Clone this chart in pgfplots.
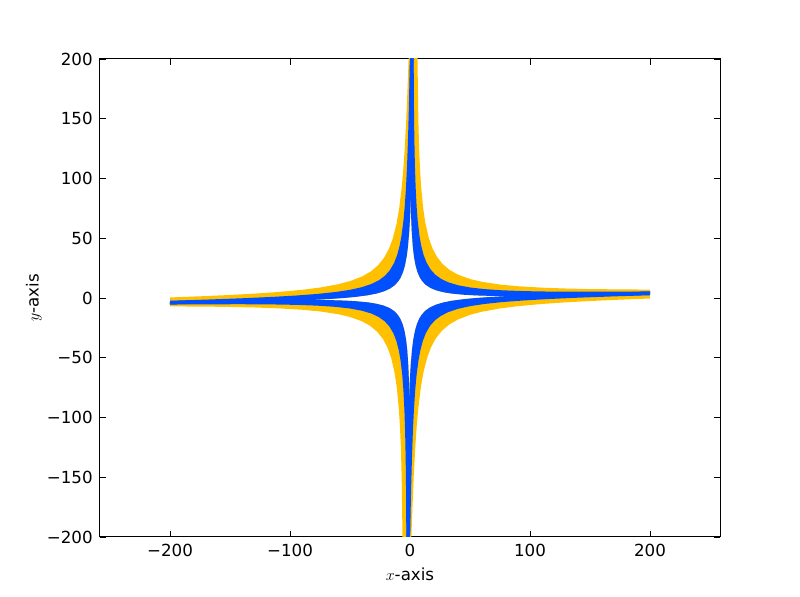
\documentclass[border=0pt]{standalone}
\usepackage{fontspec}
\setmainfont{DejaVu Sans}
\usepackage{pgfplots}
\pgfplotsset{compat=1.18}
\definecolor{myyellow}{RGB}{255,192,0}
\definecolor{myblue}{RGB}{0,80,255}
\begin{document}
\begin{tikzpicture}
\begin{axis}[
  scale only axis, width=465pt, height=358.5pt,
  xmin=-258.33, xmax=258.33, ymin=-200, ymax=200,
  axis line style={line width=0.75pt},
  xtick={-200,-100,0,100,200},
  xticklabels={−200,−100,0,100,200},
  ytick={-200,-150,-100,-50,0,50,100,150,200},
  yticklabels={−200,−150,−100,−50,0,50,100,150,200},
  tick align=inside, major tick length=4.2pt,
  tick style={black, line width=0.6pt},
  ticklabel style={font=\fontsize{12.5}{14}\selectfont},
  xticklabel style={yshift=-2pt},
  yticklabel style={xshift=-2pt},
  xlabel={$x$\fontsize{12.5}{14}\selectfont-axis},
  ylabel={$y$\fontsize{12.5}{14}\selectfont-axis},
  label style={font=\fontsize{12.5}{14}\selectfont},
  xlabel style={yshift=-1.5pt},
  ylabel style={yshift=-3pt},
]
% yellow I
\addplot[fill=myyellow, draw=none] coordinates {(6.23,250.05) (6.26,214.35) (6.42,187.57) (6.94,150.08) (7.61,125.1) (8.38,107.26) (9.21,93.88) (10.97,75.17) (12.81,62.7) (15.65,50.25) (18.54,41.97) (22.44,34.45) (27.36,28.23) (33.29,23.27) (40.24,19.41) (50.19,15.83) (60.16,13.49) (75.13,11.24) (90.11,9.82) (110.09,8.64) (130.07,7.92) (150.06,7.48) (175.06,7.18) (200.05,7.05) (199.99,2.42) (174.99,2.07) (149.99,1.78) (124.99,1.56) (100,1.46) (80,1.56) (67,1.77) (55.01,2.15) (45.01,2.72) (35.02,3.67) (28.03,4.8) (22.04,6.34) (17.06,8.39) (13.08,11.04) (10.1,14.18) (8.13,17.28) (6.16,21.86) (4.7,27.02) (3.26,35.01) (2.32,43.32) (1.42,56.38) (0.83,71.08) (0.37,91.13) (0.08,118.66) (-0.05,155.94) (0.01,203.47) (0.16,248.69)} -- cycle;
% yellow III
\addplot[fill=myyellow, draw=none] coordinates {(-6.23,-250.05) (-6.26,-214.35) (-6.42,-187.57) (-6.94,-150.08) (-7.61,-125.1) (-8.38,-107.26) (-9.21,-93.88) (-10.97,-75.17) (-12.81,-62.7) (-15.65,-50.25) (-18.54,-41.97) (-22.44,-34.45) (-27.36,-28.23) (-33.29,-23.27) (-40.24,-19.41) (-50.19,-15.83) (-60.16,-13.49) (-75.13,-11.24) (-90.11,-9.82) (-110.09,-8.64) (-130.07,-7.92) (-150.06,-7.48) (-175.06,-7.18) (-200.05,-7.05) (-199.99,-2.42) (-174.99,-2.07) (-149.99,-1.78) (-124.99,-1.56) (-100,-1.46) (-80,-1.56) (-67,-1.77) (-55.01,-2.15) (-45.01,-2.72) (-35.02,-3.67) (-28.03,-4.8) (-22.04,-6.34) (-17.06,-8.39) (-13.08,-11.04) (-10.1,-14.18) (-8.13,-17.28) (-6.16,-21.86) (-4.7,-27.02) (-3.26,-35.01) (-2.32,-43.32) (-1.42,-56.38) (-0.83,-71.08) (-0.37,-91.13) (-0.08,-118.66) (0.05,-155.94) (-0.01,-203.47) (-0.16,-248.69)} -- cycle;
% yellow II
\addplot[fill=myyellow, draw=none] coordinates {(0.23,249.95) (-0.74,214.23) (-1.58,187.43) (-3.07,149.92) (-4.39,124.9) (-5.62,107.02) (-6.79,93.62) (-9.03,74.84) (-11.19,62.3) (-14.36,49.75) (-17.46,41.37) (-21.56,33.73) (-26.64,27.33) (-32.71,22.19) (-39.76,18.09) (-49.81,14.18) (-59.84,11.51) (-74.87,8.76) (-89.89,6.85) (-109.91,5.0) (-129.93,3.62) (-149.94,2.53) (-174.94,1.4) (-199.95,0.45) (-200.01,-5.38) (-175.01,-4.75) (-150.01,-4.08) (-125.01,-3.32) (-100,-2.44) (-80,-1.56) (-67,-0.85) (-54.99,0.01) (-44.99,0.96) (-34.98,2.31) (-27.97,3.7) (-21.96,5.48) (-16.94,7.73) (-12.92,10.54) (-9.9,13.79) (-7.87,16.96) (-5.84,21.62) (-4.3,26.84) (-2.74,34.89) (-1.68,43.24) (-0.58,56.34) (0.23,71.06) (0.97,91.15) (1.68,118.7) (2.35,155.98) (3.01,203.53) (3.52,248.75)} -- cycle;
% yellow IV
\addplot[fill=myyellow, draw=none] coordinates {(-0.23,-249.95) (0.74,-214.23) (1.58,-187.43) (3.07,-149.92) (4.39,-124.9) (5.62,-107.02) (6.79,-93.62) (9.03,-74.84) (11.19,-62.3) (14.36,-49.75) (17.46,-41.37) (21.56,-33.73) (26.64,-27.33) (32.71,-22.19) (39.76,-18.09) (49.81,-14.18) (59.84,-11.51) (74.87,-8.76) (89.89,-6.85) (109.91,-5.0) (129.93,-3.62) (149.94,-2.53) (174.94,-1.4) (199.95,-0.45) (200.01,5.38) (175.01,4.75) (150.01,4.08) (125.01,3.32) (100,2.44) (80,1.56) (67,0.85) (54.99,-0.01) (44.99,-0.96) (34.98,-2.31) (27.97,-3.7) (21.96,-5.48) (16.94,-7.73) (12.92,-10.54) (9.9,-13.79) (7.87,-16.96) (5.84,-21.62) (4.3,-26.84) (2.74,-34.89) (1.68,-43.24) (0.58,-56.34) (-0.23,-71.06) (-0.97,-91.15) (-1.68,-118.7) (-2.35,-155.98) (-3.01,-203.53) (-3.52,-248.75)} -- cycle;
% blue I
\addplot[fill=myblue, draw=none] coordinates {(3.03,249.52) (3.03,220.58) (3.11,190.44) (3.29,161.08) (3.6,135.03) (4.04,113.07) (4.69,92.91) (5.56,75.96) (6.47,64.24) (7.89,52.15) (9.32,43.89) (11.27,36.23) (13.72,29.76) (17.17,23.83) (21.14,19.44) (26.11,15.86) (32.09,13.04) (40.07,10.65) (50.06,8.8) (62.05,7.43) (77.04,6.42) (95.03,5.75) (115.02,5.38) (140.02,5.22) (170.01,5.28) (200.01,5.49) (199.99,2.42) (174.99,2.07) (149.99,1.78) (124.99,1.56) (100,1.46) (80,1.56) (67,1.77) (55.01,2.15) (45.01,2.72) (35.02,3.67) (28.03,4.8) (22.04,6.34) (17.06,8.39) (13.08,11.04) (10.1,14.18) (8.13,17.28) (6.16,21.86) (4.7,27.02) (3.26,35.01) (2.32,43.32) (1.42,56.38) (0.83,71.08) (0.37,91.13) (0.08,118.66) (-0.05,155.94) (0.01,203.47) (0.16,248.69)} -- cycle;
% blue III
\addplot[fill=myblue, draw=none] coordinates {(-3.03,-249.52) (-3.03,-220.58) (-3.11,-190.44) (-3.29,-161.08) (-3.6,-135.03) (-4.04,-113.07) (-4.69,-92.91) (-5.56,-75.96) (-6.47,-64.24) (-7.89,-52.15) (-9.32,-43.89) (-11.27,-36.23) (-13.72,-29.76) (-17.17,-23.83) (-21.14,-19.44) (-26.11,-15.86) (-32.09,-13.04) (-40.07,-10.65) (-50.06,-8.8) (-62.05,-7.43) (-77.04,-6.42) (-95.03,-5.75) (-115.02,-5.38) (-140.02,-5.22) (-170.01,-5.28) (-200.01,-5.49) (-199.99,-2.42) (-174.99,-2.07) (-149.99,-1.78) (-124.99,-1.56) (-100,-1.46) (-80,-1.56) (-67,-1.77) (-55.01,-2.15) (-45.01,-2.72) (-35.02,-3.67) (-28.03,-4.8) (-22.04,-6.34) (-17.06,-8.39) (-13.08,-11.04) (-10.1,-14.18) (-8.13,-17.28) (-6.16,-21.86) (-4.7,-27.02) (-3.26,-35.01) (-2.32,-43.32) (-1.42,-56.38) (-0.83,-71.08) (-0.37,-91.13) (-0.08,-118.66) (0.05,-155.94) (-0.01,-203.47) (-0.16,-248.69)} -- cycle;
% blue II
\addplot[fill=myblue, draw=none] coordinates {(0.67,249.48) (0.23,220.52) (-0.29,190.38) (-0.91,161.0) (-1.6,134.93) (-2.36,112.95) (-3.31,92.75) (-4.44,75.76) (-5.53,64.0) (-7.12,51.85) (-8.68,43.53) (-10.73,35.81) (-13.28,29.24) (-16.83,23.17) (-20.86,18.62) (-25.89,14.84) (-31.91,11.8) (-39.93,9.09) (-49.94,6.85) (-61.95,5.01) (-76.96,3.42) (-94.97,2.05) (-114.98,0.9) (-139.98,-0.24) (-169.99,-1.35) (-199.99,-2.31) (-200.01,-5.38) (-175.01,-4.75) (-150.01,-4.08) (-125.01,-3.32) (-100,-2.44) (-80,-1.56) (-67,-0.85) (-54.99,0.01) (-44.99,0.96) (-34.98,2.31) (-27.97,3.7) (-21.96,5.48) (-16.94,7.73) (-12.92,10.54) (-9.9,13.79) (-7.87,16.96) (-5.84,21.62) (-4.3,26.84) (-2.74,34.89) (-1.68,43.24) (-0.58,56.34) (0.23,71.06) (0.97,91.15) (1.68,118.7) (2.35,155.98) (3.01,203.53) (3.52,248.75)} -- cycle;
% blue IV
\addplot[fill=myblue, draw=none] coordinates {(-0.67,-249.48) (-0.23,-220.52) (0.29,-190.38) (0.91,-161.0) (1.6,-134.93) (2.36,-112.95) (3.31,-92.75) (4.44,-75.76) (5.53,-64.0) (7.12,-51.85) (8.68,-43.53) (10.73,-35.81) (13.28,-29.24) (16.83,-23.17) (20.86,-18.62) (25.89,-14.84) (31.91,-11.8) (39.93,-9.09) (49.94,-6.85) (61.95,-5.01) (76.96,-3.42) (94.97,-2.05) (114.98,-0.9) (139.98,0.24) (169.99,1.35) (199.99,2.31) (200.01,5.38) (175.01,4.75) (150.01,4.08) (125.01,3.32) (100,2.44) (80,1.56) (67,0.85) (54.99,-0.01) (44.99,-0.96) (34.98,-2.31) (27.97,-3.7) (21.96,-5.48) (16.94,-7.73) (12.92,-10.54) (9.9,-13.79) (7.87,-16.96) (5.84,-21.62) (4.3,-26.84) (2.74,-34.89) (1.68,-43.24) (0.58,-56.34) (-0.23,-71.06) (-0.97,-91.15) (-1.68,-118.7) (-2.35,-155.98) (-3.01,-203.53) (-3.52,-248.75)} -- cycle;
\coordinate (bl) at (rel axis cs:0,0);
\coordinate (tr) at (rel axis cs:1,1);
\end{axis}
\pgfresetboundingbox
\path[use as bounding box] ([shift={(-75pt,-45pt)}]bl) rectangle ([shift={(60pt,44.25pt)}]tr);
\end{tikzpicture}
\end{document}
